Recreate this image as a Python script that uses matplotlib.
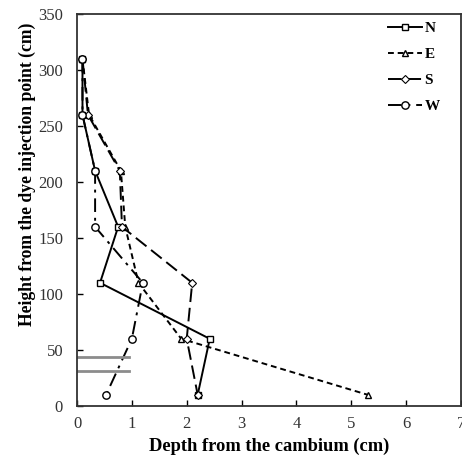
import matplotlib
matplotlib.use("Agg")
import matplotlib.pyplot as plt

# heights (cm) of sampling points
height = [310, 260, 210, 160, 110, 60, 10]

# depth from cambium (cm) per direction
depth_n = [0.1, 0.1, 0.33, 0.75, 0.42, 2.42, 2.2]
depth_e = [0.1, 0.22, 0.8, 0.88, 1.12, 1.9, 5.3]
depth_s = [0.1, 0.2, 0.78, 0.82, 2.1, 2.0, 2.2]
depth_w = [0.1, 0.1, 0.33, 0.33, 1.2, 1.0, 0.53]

# grey marks in the lower left corner
grey_y = [44, 31.5]
grey_x_end = 0.95

plt.rcParams['font.family'] = ['Liberation Serif', 'DejaVu Serif']

fig = plt.figure(figsize=(4.62, 4.58), dpi=100)
ax = fig.add_axes([77 / 462, 52 / 458, 384 / 462, 392 / 458])

ax.plot(depth_n, height, color="black", lw=1.4, marker="s", ms=4.8,
        mfc="white", mec="black", mew=1, label="N")
ax.plot(depth_e, height, color="black", lw=1.4, ls=(0, (3, 2)), marker="^",
        ms=5, mfc="white", mec="black", mew=1, label="E")
ax.plot(depth_s, height, color="black", lw=1.4, ls=(0, (7, 3)), marker="D",
        ms=3.6, mfc="white", mec="black", mew=0.8, label="S")
ax.plot(depth_w, height, color="black", lw=1.4, ls=(0, (7, 3, 1.5, 3)),
        marker="o", ms=5.3, mfc="white", mec="black", mew=1, label="W")

for gy in grey_y:
    ax.plot([0, grey_x_end], [gy, gy], color="#8c8c8c", lw=2)

ax.set_xlim(0, 7)
ax.set_ylim(0, 350)
ax.set_xticks(range(0, 8))
ax.set_yticks(range(0, 351, 50))
ax.tick_params(direction="in", length=4, width=1, labelsize=12,
               labelcolor="#333333")
ax.tick_params(axis="y", pad=10)
ax.tick_params(axis="x", pad=7)
for sp in ax.spines.values():
    sp.set_linewidth(1.3)
    sp.set_color("#333333")

ax.set_xlabel("Depth from the cambium (cm)", fontsize=13.3, fontweight="bold")
ax.set_ylabel("Height from the dye injection point (cm)", fontsize=12.7,
              fontweight="bold")
ax.xaxis.set_label_coords(0.5, -0.102, transform=ax.transAxes)
ax.yaxis.set_label_coords(-0.13, 0.59, transform=ax.transAxes)
ax.xaxis.label.set_va("center")
ax.yaxis.label.set_va("center")

leg = ax.legend(loc="upper right", bbox_to_anchor=(0.965, 1.0), frameon=False,
                handlelength=2.2, labelspacing=0.8, handletextpad=0.2,
                borderaxespad=0.1, prop={"weight": "bold", "size": 11})

fig.savefig("out.png", dpi=100)
